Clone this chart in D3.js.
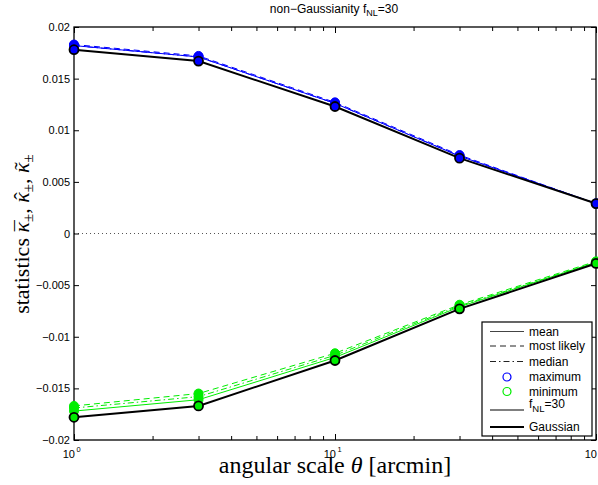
<!DOCTYPE html>
<html>
<head>
<meta charset="utf-8">
<script src="https://cdn.jsdelivr.net/npm/d3@7"></script>
<style>
  body { margin: 0; background: #fff; }
  text { font-family: "Liberation Sans", Arial, sans-serif; }
  .serif { font-family: "Liberation Serif", "Times New Roman", serif; }
</style>
</head>
<body>
<div id="chart-area"></div>
<script>
// angular scales (arcmin)
const thetas = [1, 3, 10, 30, 100]

// non-Gaussian fNL=30, maximum statistics
const maxMean = [0.0182, 0.0171, 0.0126, 0.0075, 0.0029]
const maxMostLikely = [0.0183, 0.0172, 0.0127, 0.0076, 0.0029]
const maxMedian = [0.0182, 0.0171, 0.0126, 0.0075, 0.0029]
// non-Gaussian fNL=30, minimum statistics
const minMean = [-0.0172, -0.0161, -0.0120, -0.0071, -0.0028]
const minMostLikely = [-0.0167, -0.0155, -0.0116, -0.0069, -0.0027]
const minMedian = [-0.0169, -0.0158, -0.0118, -0.0070, -0.0028]
// Gaussian
const gaussMax = [0.0178, 0.0167, 0.0123, 0.0073, 0.0029]
const gaussMin = [-0.0178, -0.0167, -0.0123, -0.0073, -0.0029]

const yTicks = [0.02, 0.015, 0.01, 0.005, 0, -0.005, -0.01, -0.015, -0.02]
const yTickLabels = ["0.02", "0.015", "0.01", "0.005", "0", "\u22120.005", "\u22120.01", "\u22120.015", "\u22120.02"]
const xTicks = [1, 10, 100]
const xTickExp = ["0", "1", "2"]

const legendItems = [
  { label: "mean", type: "line", dash: null, w: 1, color: "#444" },
  { label: "most likely", type: "line", dash: "6,4", w: 1, color: "#222" },
  { label: "median", type: "line", dash: "6,3,1.5,3", w: 1, color: "#222" },
  { label: "maximum", type: "circle", color: "#0000ff" },
  { label: "minimum", type: "circle", color: "#00ee00" },
  { label: "fNL", type: "line", dash: null, w: 1.2, color: "#000" },
  { label: "Gaussian", type: "line", dash: null, w: 2, color: "#000" }
]

const W = 598, H = 485
const LEFT = 74, RIGHT = 596, TOP = 27, BOTTOM = 440

const svg = d3.select("#chart-area").append("svg")
  .attr("width", W)
  .attr("height", H)

const x = d3.scaleLog().domain([1, 100]).range([LEFT, RIGHT])
const y = d3.scaleLinear().domain([-0.02, 0.02]).range([BOTTOM, TOP])

const BLUE = "#0000ff", GREEN = "#00ee00"

// zero line
svg.append("line")
  .attr("x1", LEFT).attr("x2", RIGHT)
  .attr("y1", y(0)).attr("y2", y(0))
  .attr("stroke", "#555").attr("stroke-width", 1)
  .attr("stroke-dasharray", "1,3")

// axes (ticks inward)
const leftAxis = d3.axisLeft(y).tickValues(yTicks).tickSize(-5).tickPadding(4)
  .tickFormat((d, i) => yTickLabels[i])
svg.append("g").attr("transform", `translate(${LEFT},0)`).call(leftAxis)
  .call(g => g.select(".domain").remove())
  .selectAll("text").attr("font-size", 11).attr("fill", "#000")

const rightAxis = d3.axisRight(y).tickValues(yTicks).tickSize(-5).tickFormat("")
svg.append("g").attr("transform", `translate(${RIGHT},0)`).call(rightAxis)
  .call(g => g.select(".domain").remove())

const minorTicks = []
for (let k = 1; k <= 10; k *= 10) for (let m = 2; m <= 9; m++) minorTicks.push(k * m)

const bottomAxis = d3.axisBottom(x).tickValues(xTicks.concat(minorTicks)).tickSize(-5).tickFormat("")
svg.append("g").attr("transform", `translate(0,${BOTTOM})`).call(bottomAxis)
  .call(g => g.select(".domain").remove())
  .selectAll(".tick line").attr("y2", d => xTicks.includes(d) ? -6 : -4)

const topAxis = d3.axisTop(x).tickValues(xTicks.concat(minorTicks)).tickSize(-5).tickFormat("")
svg.append("g").attr("transform", `translate(0,${TOP})`).call(topAxis)
  .call(g => g.select(".domain").remove())
  .selectAll(".tick line").attr("y2", d => xTicks.includes(d) ? 6 : 4)

// x tick labels: 10^n
xTicks.forEach((t, i) => {
  svg.append("text")
    .attr("x", x(t) + 1).attr("y", BOTTOM + 18)
    .attr("font-size", 11).attr("text-anchor", "end")
    .text("10")
  svg.append("text")
    .attr("x", x(t) + 2.5).attr("y", BOTTOM + 12)
    .attr("font-size", 7.5)
    .text(xTickExp[i])
})

// frame
svg.append("rect")
  .attr("x", LEFT).attr("y", TOP)
  .attr("width", RIGHT - LEFT).attr("height", BOTTOM - TOP)
  .attr("fill", "none").attr("stroke", "#000").attr("stroke-width", 1.3)

// lines
const line = vals => d3.line()
  .x((d, i) => x(thetas[i]))
  .y(d => y(d))(vals)

function drawSeries(vals, color, dash, w) {
  svg.append("path")
    .attr("d", line(vals))
    .attr("fill", "none")
    .attr("stroke", color)
    .attr("stroke-width", w)
    .attr("stroke-dasharray", dash)
}

drawSeries(maxMean, BLUE, null, 1)
drawSeries(maxMostLikely, BLUE, "6,4", 1)
drawSeries(maxMedian, BLUE, "6,3,1.5,3", 1)
drawSeries(minMean, GREEN, null, 1)
drawSeries(minMostLikely, GREEN, "6,4", 1)
drawSeries(minMedian, GREEN, "6,3,1.5,3", 1)

// fNL=30 markers
;[[maxMean, BLUE], [maxMostLikely, BLUE], [maxMedian, BLUE],
  [minMean, GREEN], [minMostLikely, GREEN], [minMedian, GREEN]].forEach(([vals, c]) => {
  svg.selectAll(null).data(vals).enter().append("circle")
    .attr("cx", (d, i) => x(thetas[i]))
    .attr("cy", d => y(d))
    .attr("r", 4.5)
    .attr("fill", c)
    .attr("stroke", c)
    .attr("stroke-width", 1)
})

// Gaussian
drawSeries(gaussMax, "#000", null, 2)
drawSeries(gaussMin, "#000", null, 2)
;[[gaussMax, BLUE], [gaussMin, GREEN]].forEach(([vals, c]) => {
  svg.selectAll(null).data(vals).enter().append("circle")
    .attr("cx", (d, i) => x(thetas[i]))
    .attr("cy", d => y(d))
    .attr("r", 4.5)
    .attr("fill", c)
    .attr("stroke", "#000")
    .attr("stroke-width", 1.8)
})

// title
const title = svg.append("text")
  .attr("x", 334).attr("y", 13)
  .attr("text-anchor", "middle").attr("font-size", 12)
title.append("tspan").text("non\u2212Gaussianity f")
title.append("tspan").attr("font-size", 9).attr("dy", 3).text("NL")
title.append("tspan").attr("dy", -3).text("=30")

// x label
svg.append("text")
  .attr("class", "serif")
  .attr("x", 335).attr("y", 473)
  .attr("text-anchor", "middle").attr("font-size", 24)
  .html('angular scale <tspan font-style="italic">\u03b8</tspan> [arcmin]')

// y label, accents placed over each kappa
const ylg = svg.append("g").attr("transform", "translate(29,234) rotate(-90)")
const yl = ylg.append("text")
  .attr("class", "serif")
  .attr("text-anchor", "middle").attr("font-size", 22)
yl.append("tspan").text("statistics ")
const kappas = []
;[0, 1, 2].forEach(i => {
  kappas.push(yl.append("tspan").attr("font-style", "italic").text("\u03ba").node())
  yl.append("tspan").attr("font-size", 15).attr("dy", 4).text("\u00b1")
  yl.append("tspan").attr("dy", -4).text(i < 2 ? ", " : "")
})
const accents = ["\u00af", "\u02c6", "\u02dc"]
kappas.forEach((k, i) => {
  const b = k.getExtentOfChar(0)
  ylg.append("text")
    .attr("class", "serif")
    .attr("x", b.x + b.width / 2 + 1.5)
    .attr("y", i === 0 ? 1 : 0)
    .attr("text-anchor", "middle").attr("font-size", 22)
    .text(accents[i])
})

// legend
const LX = 482, LY = 322, LW = 110, LH = 114
const lg = svg.append("g")
lg.append("rect")
  .attr("x", LX).attr("y", LY).attr("width", LW).attr("height", LH)
  .attr("fill", "#fff").attr("stroke", "#000").attr("stroke-width", 1.2)

const rowY = [331.5, 346, 361.5, 377, 391.5, 410, 427]
legendItems.forEach((it, i) => {
  const ry = rowY[i]
  if (it.type === "line") {
    lg.append("line")
      .attr("x1", 490).attr("x2", 524)
      .attr("y1", ry).attr("y2", ry)
      .attr("stroke", it.color).attr("stroke-width", it.w)
      .attr("stroke-dasharray", it.dash)
  } else {
    lg.append("circle")
      .attr("cx", 507).attr("cy", ry).attr("r", 4)
      .attr("fill", "none").attr("stroke", it.color).attr("stroke-width", 1.2)
  }
  if (it.label === "fNL") {
    const t = lg.append("text").attr("x", 529).attr("y", ry - 2).attr("font-size", 12)
    t.append("tspan").text("f")
    t.append("tspan").attr("font-size", 9.5).attr("dy", 4).text("NL")
    t.append("tspan").attr("dy", -4).text("=30")
  } else {
    lg.append("text")
      .attr("x", 529).attr("y", ry + 4).attr("font-size", 12)
      .text(it.label)
  }
})
</script>
</body>
</html>
